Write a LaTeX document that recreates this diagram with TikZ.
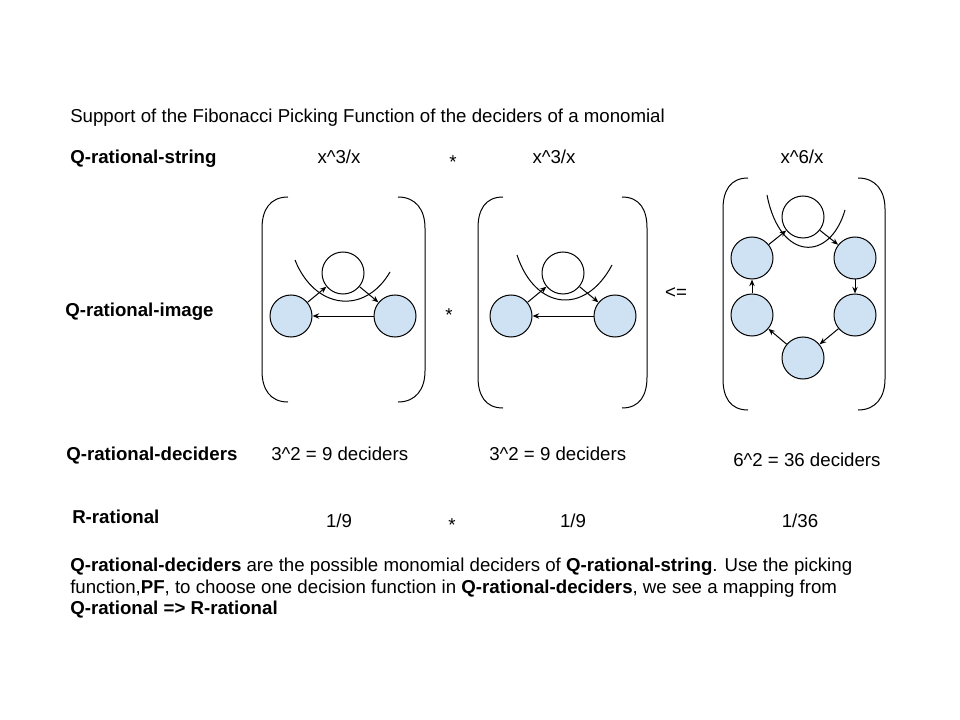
\documentclass[tikz,border=0pt]{standalone}
\usepackage{fontspec}
\setmainfont{Liberation Sans}
\usetikzlibrary{arrows.meta}
\definecolor{nodeblue}{HTML}{CFE2F3}
\begin{document}
\begin{tikzpicture}[x=0.75pt,y=-0.75pt,
  every node/.style={font=\fontsize{14}{16.8}\selectfont, inner sep=0pt},
  txt/.style={anchor=base west},
  ctxt/.style={anchor=base},
  lbl/.style={anchor=base west, font=\fontsize{14}{16.8}\selectfont\bfseries},
  bluenode/.style={circle, draw=black, fill=nodeblue, line width=0.75pt, minimum size=31.5pt},
  whitenode/.style={circle, draw=black, fill=white, line width=0.75pt, minimum size=31.5pt},
  arr/.style={-{Stealth[length=5pt,width=4pt]}, line width=0.75pt},
  bracket/.style={line width=0.75pt},
  crv/.style={line width=0.75pt}]
\useasboundingbox (0,0) rectangle (960,720);

% texts
\node[txt] (title) at (70,123) {Support of the Fibonacci Picking Function of the deciders of a monomial};
\node[lbl] (lstring) at (70,164) {Q-rational-string};
\node[lbl] (limage) at (65,316) {Q-rational-image};
\node[lbl] (ldeciders) at (66,460) {Q-rational-deciders};
\node[lbl] (lreal) at (72,523) {R-rational};

\node[ctxt] (s1) at (339,164) {x\textasciicircum 3/x};
\node[ctxt] (star1) at (453,169) {*};
\node[ctxt] (s2) at (554,164) {x\textasciicircum 3/x};
\node[ctxt] (s3) at (802,164) {x\textasciicircum 6/x};

\node[ctxt] (star2) at (449,321) {*};
\node[ctxt] (le) at (676,299) {<=};

\node[txt] (d1) at (271,460) {3\textasciicircum 2 = 9 deciders};
\node[txt] (d2) at (489,460) {3\textasciicircum 2 = 9 deciders};
\node[txt] (d3) at (733,466) {6\textasciicircum 2 = 36 deciders};

\node[ctxt] (r1) at (339,527) {1/9};
\node[ctxt] (star3) at (452,531) {*};
\node[ctxt] (r2) at (573,527) {1/9};
\node[ctxt] (r3) at (800,527) {1/36};

\node[txt] (p1) at (70,571) {\textbf{Q-rational-deciders} are the possible monomial deciders of \textbf{Q-rational-string}. Use the picking};
\node[txt] (p2) at (70,593) {function,\textbf{PF}, to choose one decision function in \textbf{Q-rational-deciders}, we see a mapping from};
\node[txt] (p3) at (70,614) {\textbf{Q-rational => R-rational}};

% group 1
\draw[bracket] (288,197) .. controls (270,197) and (262,210) .. (262,228) -- (262,371) .. controls (262,389) and (270,402) .. (288,402);
\draw[bracket] (398,197) .. controls (416,197) and (425,210) .. (425,228) -- (425,371) .. controls (425,389) and (416,402) .. (398,402);
\draw[crv] (295,260) .. controls (315,310) and (365,315) .. (390,272);
\node[whitenode] (a0) at (343,273) {};
\node[bluenode] (a1) at (291,316) {};
\node[bluenode] (a2) at (395,316) {};
\draw[arr] (a1) -- (a0);
\draw[arr] (a0) -- (a2);
\draw[arr] (a2) -- (a1);

% group 2
\draw[bracket] (503,197) .. controls (485,197) and (478,210) .. (478,228) -- (478,377) .. controls (478,395) and (485,408) .. (503,408);
\draw[bracket] (622,197) .. controls (640,197) and (647,210) .. (647,228) -- (647,377) .. controls (647,395) and (640,408) .. (622,408);
\draw[crv] (517,255) .. controls (535,310) and (585,316) .. (612,265);
\node[whitenode] (b0) at (563,273) {};
\node[bluenode] (b1) at (511,316) {};
\node[bluenode] (b2) at (615,316) {};
\draw[arr] (b1) -- (b0);
\draw[arr] (b0) -- (b2);
\draw[arr] (b2) -- (b1);

% group 3
\draw[bracket] (748,178) .. controls (730,178) and (723,191) .. (723,209) -- (723,379) .. controls (723,397) and (730,410) .. (748,410);
\draw[bracket] (858,178) .. controls (876,178) and (885,191) .. (885,209) -- (885,379) .. controls (885,397) and (876,410) .. (858,410);
\draw[crv] (767,195) .. controls (780,262) and (830,262) .. (845,210);
\node[whitenode] (c0) at (803,217) {};
\node[bluenode] (c1) at (855,258) {};
\node[bluenode] (c2) at (855,315) {};
\node[bluenode] (c3) at (803,358) {};
\node[bluenode] (c4) at (752,315) {};
\node[bluenode] (c5) at (752,258) {};
\draw[arr] (c5) -- (c0);
\draw[arr] (c0) -- (c1);
\draw[arr] (c1) -- (c2);
\draw[arr] (c2) -- (c3);
\draw[arr] (c3) -- (c4);
\draw[arr] (c4) -- (c5);
\end{tikzpicture}
\end{document}
